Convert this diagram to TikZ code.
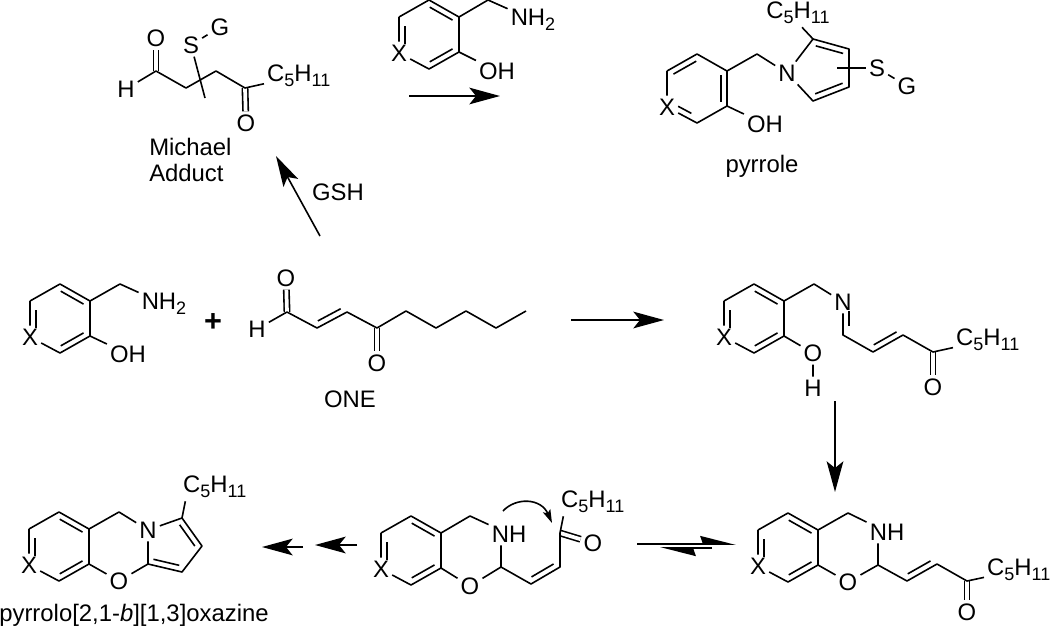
\documentclass[tikz,border=0pt]{standalone}
\usepackage{fontspec}
\setmainfont{Liberation Sans}
\usepackage{tikz}
\usetikzlibrary{arrows.meta,calc}

\newcommand{\lowidx}[1]{\raisebox{-4pt}{\fontsize{13.5}{13.5}\selectfont #1}}
\newcommand{\chain}{C\lowidx{5}H\lowidx{11}}
% second line of a double bond, on the left of a -> b
\newcommand{\dbond}[3][.12]{\draw[bond] ($(#2)!#1!(#3)!4.4pt!90:(#3)$) -- ($(#3)!#1!(#2)!4.4pt!-90:(#2)$);}

\tikzset{
	atom/.style={inner sep=2.2pt,font=\fontsize{17.9}{19.5}\selectfont},
	lbl/.style={inner sep=0pt,font=\fontsize{17.9}{19.5}\selectfont},
	bond/.style={line width=1.2pt,line join=round},
	dbl/.style={bond,double,double distance=2.8pt},
	rxn/.style={line width=1.2pt,-{Stealth[length=23pt,width=12.5pt,inset=5pt]}},
	eqm/.style={line width=1.4pt,-{Stealth[left,length=24pt,width=12pt,inset=2pt]}}
}

\begin{document}
\begin{tikzpicture}[x=0.75pt,y=-0.75pt]
\useasboundingbox (0,0) rectangle (1050,626);

% the six-membered rings
\foreach \r/\x/\y in {py/697/54,am/429/0,lf/60/284,im/754/284,rt/788/513,md/411/516,ox/59/512}
{
	\coordinate (\r-t) at (\x,\y);
	\coordinate (\r-l) at (\x-30,\y+17);
	\node[atom] (\r-x) at (\x-30,\y+53) {X};
	\coordinate (\r-b) at (\x,\y+69);
	\coordinate (\r-r) at (\x+30,\y+52);
	\coordinate (\r-u) at (\x+30,\y+17);
	\draw[bond] (\r-l) -- (\r-t) -- (\r-u) -- (\r-r) -- (\r-b) -- (\r-x) -- (\r-l);
}
\foreach \r in {am,lf,im,rt,md,ox}
{
	\dbond{\r-u}{\r-t}
	\dbond{\r-b}{\r-r}
	\dbond[.25]{\r-l}{\r-x}
}
\dbond{py-t}{py-l}
\dbond{py-r}{py-u}
\dbond[.28]{py-x}{py-b}

% Michael adduct
\coordinate (ma1) at (156,71);
\coordinate (ma2) at (186,88);
\coordinate (ma3) at (216,71);
\coordinate (ma4) at (245,88);
\coordinate (mat) at (205,98);
\node[atom] (maO) at (156,38) {O};
\node[atom] (maH) at (126,89) {H};
\node[atom] (maS) at (191,45) {S};
\node[atom] (maG) at (220,27) {G};
\node[atom] (maO2) at (246,123) {O};
\node[atom,anchor=west] (maC) at (264,76) {\chain};
\draw[dbl] (ma1) -- (maO);
\draw[dbl] (ma4) -- (maO2);
\draw[bond] (maH) -- (ma1) -- (ma2) -- (ma3) -- (ma4) -- (maC);
\draw[bond] (maS) -- (mat);
\draw[bond] (maS) -- (maG);
\node[lbl,align=left,anchor=west] (maL) at (149,160) {Michael\\Adduct};

% amine above the first arrow
\coordinate (amc) at (488,0);
\node[atom] (amN) at (533,20) {NH\lowidx{2}};
\node[atom] (amO) at (497,71) {OH};
\draw[bond] (am-u) -- (amc) -- (amN);
\draw[bond] (am-r) -- (amO);

% pyrrole
\coordinate (pyc) at (757,54);
\coordinate (py2) at (813,39);
\coordinate (py3) at (849,49);
\coordinate (py4) at (849,87);
\coordinate (py5) at (813,101);
\coordinate (pys) at (837,68);
\node[atom] (pyN) at (787,73) {N};
\node[atom] (pyO) at (765,124) {OH};
\node[atom] (pyS) at (877,68) {S};
\node[atom] (pyG) at (907,86) {G};
\node[atom] (pyC) at (798,13) {\chain};
\draw[bond] (py-u) -- (pyc) -- (pyN) -- (py2) -- (py3) -- (py4) -- (py5) -- (pyN);
\draw[bond] (py-r) -- (pyO);
\draw[bond] (py2) -- ([xshift=3pt]pyC.south);
\draw[bond] (pys) -- (pyS) -- (pyG);
\dbond{py3}{py2}
\dbond{py5}{py4}
\node[lbl] (pyL) at (762,166) {pyrrole};

% left amine and ONE
\coordinate (lfc) at (120,284);
\node[atom] (lfN) at (164,304) {NH\lowidx{2}};
\node[atom] (lfO) at (128,354) {OH};
\draw[bond] (lf-u) -- (lfc) -- (lfN);
\draw[bond] (lf-r) -- (lfO);
\node[lbl,font=\fontsize{23}{23}\selectfont\bfseries] (plus) at (213,322) {+};

\coordinate (on1) at (287,312);
\coordinate (on2) at (317,328);
\coordinate (on3) at (347,312);
\coordinate (on4) at (377,328);
\coordinate (on5) at (406,311);
\coordinate (on6) at (436,328);
\coordinate (on7) at (466,311);
\coordinate (on8) at (496,328);
\coordinate (on9) at (526,311);
\node[atom] (onO) at (286,278) {O};
\node[atom] (onH) at (257,329) {H};
\node[atom] (onO2) at (377,363) {O};
\draw[dbl] (on1) -- (onO);
\draw[dbl] (on4) -- (onO2);
\draw[bond] (onH) -- (on1) -- (on2) -- (on3) -- (on4) -- (on5) -- (on6) -- (on7) -- (on8) -- (on9);
\dbond{on2}{on3}
\node[lbl] (onL) at (350,399) {ONE};

% imine
\coordinate (imc) at (814,284);
\coordinate (im1) at (843,335);
\coordinate (im2) at (873,352);
\coordinate (im3) at (903,335);
\coordinate (im4) at (933,352);
\node[atom] (imN) at (843,302) {N};
\node[atom] (imO) at (813,353) {O};
\node[atom] (imH) at (813,388) {H};
\node[atom] (imO2) at (933,387) {O};
\node[atom,anchor=west] (imC) at (953,340) {\chain};
\draw[dbl] (im4) -- (imO2);
\draw[bond] (im-u) -- (imc) -- (imN) -- (im1) -- (im2) -- (im3) -- (im4) -- (imC);
\draw[bond] (im-r) -- (imO) -- (imH);
\dbond[.28]{imN}{im1}
\dbond{im2}{im3}

% benzoxazine on the right
\coordinate (rtc) at (848,513);
\coordinate (rt1) at (878,565);
\coordinate (rt2) at (907,581);
\coordinate (rt3) at (937,564);
\coordinate (rt4) at (967,581);
\node[atom] (rtN) at (887,532) {NH};
\node[atom] (rtO) at (848,582) {O};
\node[atom] (rtO2) at (967,612) {O};
\node[atom,anchor=west] (rtC) at (984,570) {\chain};
\draw[dbl] (rt4) -- (rtO2);
\draw[bond] (rt-u) -- (rtc) -- (rtN);
\draw[bond] (rt1 |- rtN.south) -- (rt1) -- (rtO) -- (rt-r);
\draw[bond] (rt1) -- (rt2) -- (rt3) -- (rt4) -- (rtC);
\dbond{rt2}{rt3}

% benzoxazine in the middle
\coordinate (mdc) at (470,516);
\coordinate (md1) at (501,567);
\coordinate (md2) at (531,584);
\coordinate (md3) at (560,567);
\coordinate (md4) at (560,533);
\node[atom] (mdN) at (509,534) {NH};
\node[atom] (mdO) at (470,586) {O};
\node[atom] (mdO2) at (593,543) {O};
\node[atom,anchor=west] (mdC) at (558,502) {\chain};
\draw[dbl] (md4) -- (mdO2);
\draw[bond] (md-u) -- (mdc) -- (mdN);
\draw[bond] (md1 |- mdN.south) -- (md1) -- (mdO) -- (md-r);
\draw[bond] (md1) -- (md2) -- (md3) -- (md4) -- ([xshift=4pt]mdC.south west);
\dbond{md2}{md3}
\coordinate (cva) at (503,511);
\coordinate (cvb) at (552,523);
\draw[bond,-{Stealth[length=10pt,width=6pt,inset=2pt]}] (cva) .. controls (516,497) and (541,498) .. (cvb);

% pyrrolo-oxazine
\coordinate (oxc) at (119,512);
\coordinate (ox1) at (148,564);
\coordinate (ox2) at (182,572);
\coordinate (ox3) at (202,546);
\coordinate (ox4) at (182,518);
\node[atom] (oxN) at (148,530) {N};
\node[atom] (oxO) at (119,581) {O};
\node[atom,anchor=west] (oxC) at (180,487) {\chain};
\draw[bond] (ox-u) -- (oxc) -- (oxN) -- (ox1) -- (ox2) -- (ox3) -- (ox4) -- (oxN);
\draw[bond] (ox-r) -- (oxO) -- (ox1);
\draw[bond] (ox4) -- ([xshift=4pt]oxC.south west);
\dbond{ox1}{ox2}
\dbond{ox3}{ox4}
\node[lbl] (oxL) at (134,615) {pyrrolo[2,1-\textit{b}][1,3]oxazine};

% arrows
\coordinate (a1s) at (409,96);
\coordinate (a1e) at (500,96);
\coordinate (a2s) at (320,236);
\coordinate (a2e) at (276,156);
\coordinate (a3s) at (571,320);
\coordinate (a3e) at (664,320);
\coordinate (a4s) at (835,401);
\coordinate (a4e) at (835,492);
\coordinate (a5s) at (637,544);
\coordinate (a5e) at (736,544);
\coordinate (a6s) at (712,548);
\coordinate (a6e) at (660,548);
\coordinate (a7s) at (357,545);
\coordinate (a7e) at (315,545);
\coordinate (a8s) at (303,547);
\coordinate (a8e) at (262,547);
\foreach \a in {a1,a2,a3,a4,a7,a8}
{
	\draw[rxn] (\a s) -- (\a e);
}
\draw[eqm] (a5s) -- (a5e);
\draw[eqm] (a6s) -- (a6e);
\node[lbl] (gsh) at (338,192) {GSH};

\end{tikzpicture}
\end{document}
